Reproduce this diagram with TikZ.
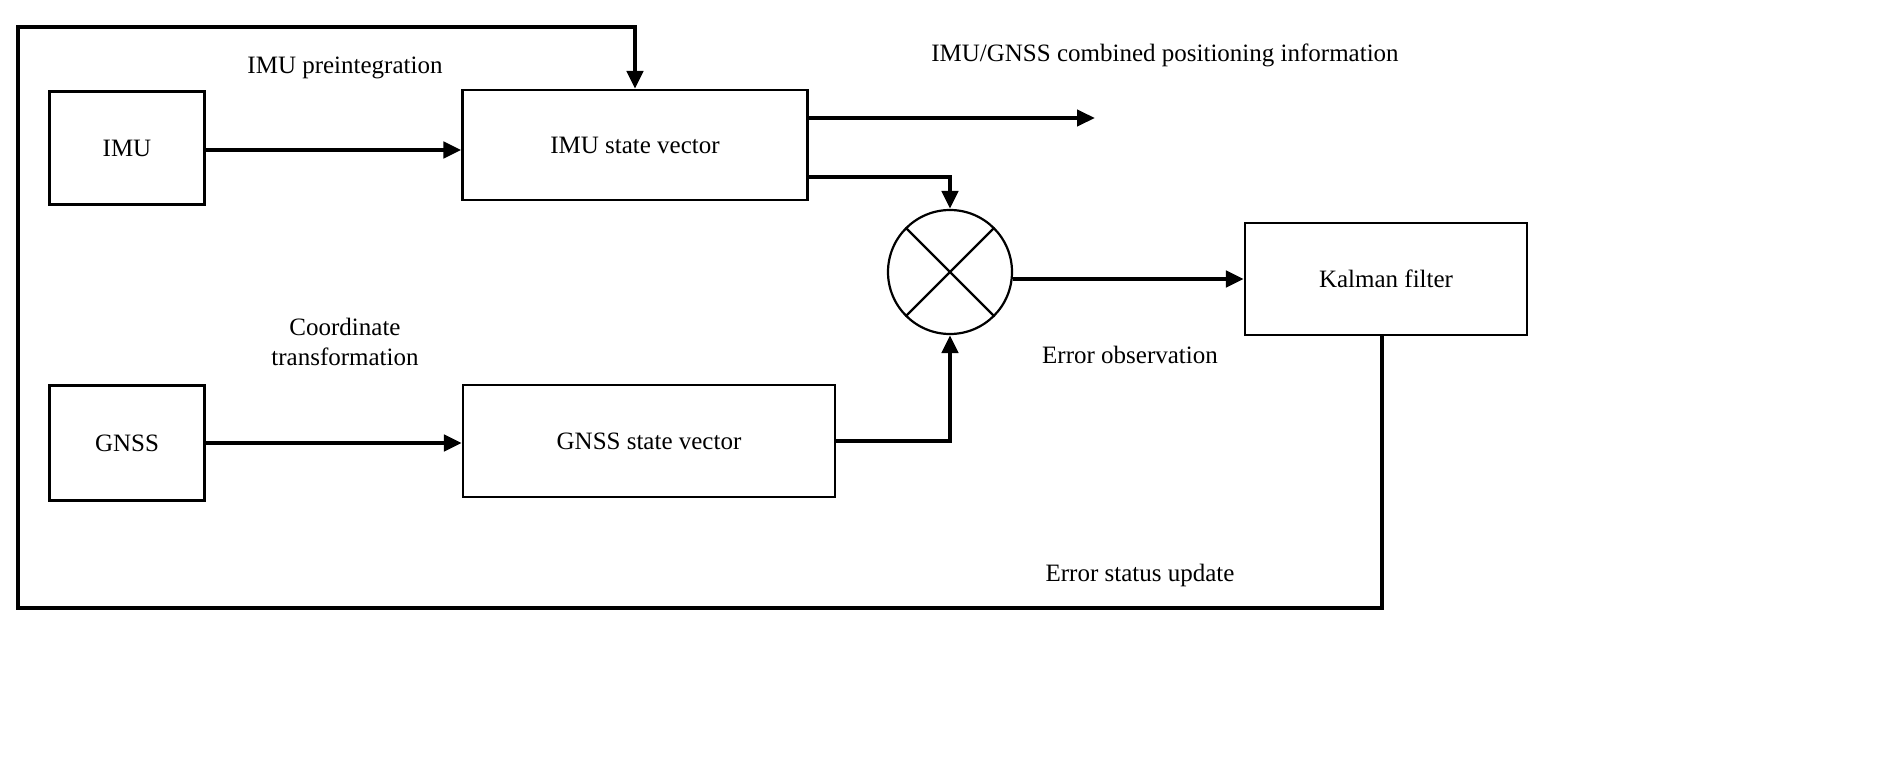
\documentclass[tikz,border=0pt]{standalone}
\usepackage{fontspec}
\setmainfont{Liberation Serif}
\usetikzlibrary{arrows.meta}
\begin{document}
\begin{tikzpicture}[x=0.5pt,y=-0.5pt,
  box/.style={draw,line width=1.1pt,inner sep=0pt,font=\fontsize{12.5}{15}\selectfont},
  lbl/.style={font=\fontsize{12.5}{15}\selectfont,inner sep=0pt,align=center},
  arr/.style={line width=2.2pt,-{Triangle[length=9pt,width=8pt]}},
  ln/.style={line width=2.2pt}]
\fill[white] (0,0) rectangle (1899,771);
\useasboundingbox (0,0) rectangle (1899,771);
\node[box,minimum width=77.5pt,minimum height=56.5pt] (imu) at (127,148) {IMU};
\node[box,minimum width=172.5pt,minimum height=55pt] (imus) at (635,145) {IMU state vector};
\node[box,minimum width=77.5pt,minimum height=57.5pt] (gnss) at (127,443) {GNSS};
\node[box,minimum width=186pt,minimum height=56pt] (gnsss) at (649,441) {GNSS state vector};
\node[box,minimum width=141pt,minimum height=56pt] (kf) at (1386,279) {Kalman filter};
\node[draw,line width=1.1pt,circle,minimum size=62pt,inner sep=0pt] (x) at (950,272) {};
\draw[line width=1.1pt] (x.north west)--(x.south east) (x.north east)--(x.south west);
\coordinate (out) at (1095,118);
\coordinate (tl) at (18,27);
\coordinate (bl) at (18,608);
\draw[arr] (imu.east|-0,150) -- (imus.west|-0,150);
\draw[arr] (gnss.east|-0,443) -- (gnsss.west|-0,443);
\draw[arr] (imus.east|-out) -- (out);
\draw[arr] (imus.east|-0,177) -| (x.north);
\draw[arr] (gnsss.east) -| (x.south);
\draw[arr] (x.east|-kf) -- (kf.west);
\draw[arr] (1382,335) |- (bl) -- (tl) -| (imus.north);
\node[lbl] at (345,68) {IMU preintegration};
\node[lbl] at (1165,55) {IMU/GNSS combined positioning information};
\node[lbl] at (345,342) {Coordinate\\transformation};
\node[lbl] at (1130,355) {Error observation};
\node[lbl] at (1140,575) {Error status update};
\end{tikzpicture}
\end{document}
